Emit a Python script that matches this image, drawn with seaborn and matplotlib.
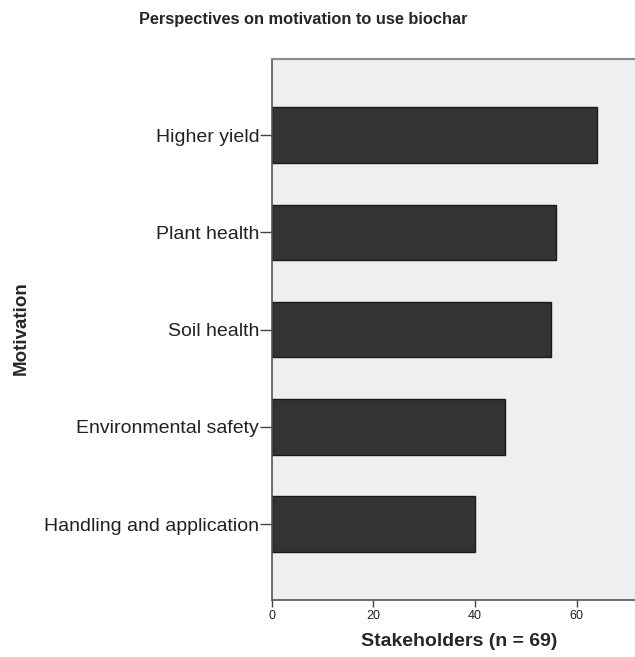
import pandas as pd
import matplotlib.pyplot as plt
import seaborn as sns

# --- Data ---
motivations = [
    "Higher yield",
    "Plant health",
    "Soil health",
    "Environmental safety",
    "Handling and application",
]
stakeholders = [64, 56, 55, 46, 40]
x_ticks = [0, 20, 40, 60]

df = pd.DataFrame({"motivation": motivations, "count": stakeholders})

sns.set_style("white")
plt.rcParams["font.family"] = ["Liberation Sans", "DejaVu Sans"]

fig = plt.figure(figsize=(6.35, 6.57), dpi=100)
ax = fig.add_axes([0.4279, 0.0868, 0.5721, 0.8229])
ax.set_facecolor("#efefef")

sns.barplot(data=df, x="count", y="motivation", orient="y", color="#333333",
            width=0.57, edgecolor="#1a1a1a", linewidth=1.0, saturation=1,
            ax=ax)

ax.set_xlim(0, 71.5)
ax.set_ylim(4.78, -0.78)
ax.set_xticks(x_ticks)
ax.set_xticklabels([str(t) for t in x_ticks], fontsize=9, color="#222222")
ax.tick_params(axis="y", length=9, width=1, color="#444444", pad=0,
               labelsize=14, labelcolor="#222222", left=True)
ax.tick_params(axis="x", length=5, width=1, color="#444444", pad=2,
               bottom=True)

for side in ["left", "bottom"]:
    ax.spines[side].set_color("#555555")
    ax.spines[side].set_linewidth(1.2)
ax.spines["top"].set_color("#8a8a8a")
ax.spines["top"].set_linewidth(1.5)
ax.spines["right"].set_visible(False)

ax.set_xlabel("Stakeholders (n = 69)", fontsize=14, fontweight="bold")
ax.xaxis.set_label_coords(0.5155, -0.062)
ax.set_ylabel("")
fig.text(0.033, 0.500, "Motivation", rotation=90, fontsize=13.5,
         fontweight="bold", ha="center", va="center")

fig.text(0.477, 0.9696, "Perspectives on motivation to use biochar",
         fontsize=11.8, fontweight="bold", ha="center", va="center")

fig.savefig("out.png", dpi=100, facecolor="white")
